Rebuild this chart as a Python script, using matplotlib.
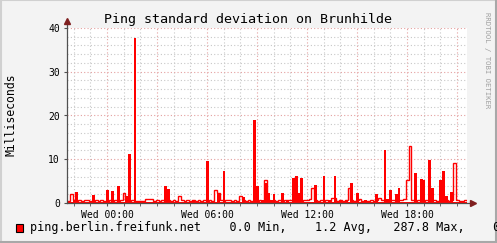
import numpy as np
import matplotlib
matplotlib.use('Agg')
import matplotlib.pyplot as plt
from matplotlib.lines import Line2D

# ping std-dev, 10 minute slots starting Tue 21:36 (hours relative to Wed 00:00)
start_hour = -2.4
slot_hours = 1 / 6

# outlined series (drawn as red step line)
line_ms = [
    0.5, 2.0, 0.6, 0.5, 0.7, 0.5, 0.8, 0.6, 0.4, 0.5, 0.7, 0.5,
    0.6, 0.4, 0.5, 0.6, 0.5, 0.7, 0.5, 0.6, 2.2, 0.8, 0.5, 0.6,
    0.5, 0.4, 0.5, 0.4, 1.0, 1.0, 0.9, 0.5, 0.6, 0.5, 0.7, 0.5,
    0.6, 0.5, 0.7, 0.5, 1.6, 0.6, 0.5, 0.7, 0.5, 0.6, 0.5, 0.7,
    0.5, 0.6, 0.5, 0.6, 0.5, 3.0, 2.3, 0.6, 0.5, 0.6, 0.7, 0.5,
    0.6, 0.5, 1.6, 0.7, 0.5, 0.6, 0.5, 0.5, 0.5, 0.6, 0.5, 5.3,
    0.6, 0.5, 0.6, 0.5, 0.6, 0.5, 0.7, 0.8, 0.6, 0.5, 0.5, 0.6,
    0.5, 0.6, 0.8, 1.0, 3.4, 0.6, 0.5, 0.7, 0.5, 0.6, 0.5, 1.1,
    1.1, 0.5, 0.6, 0.5, 0.6, 3.4, 0.6, 0.5, 0.6, 1.0, 0.5, 0.5,
    0.5, 0.6, 0.5, 0.6, 1.1, 0.6, 0.5, 0.5, 0.6, 0.7, 0.5, 0.6,
    0.6, 1.0, 5.3, 13.0, 0.6, 0.5, 0.6, 0.5, 0.5, 0.7, 0.5, 0.6,
    0.6, 0.5, 0.5, 0.5, 0.6, 0.5, 0.6, 9.1, 0.6, 0.4, 0.5, 0.8,
]

# filled series (red area)
area_ms = [
    0.3, 0.2, 0.7, 2.6, 0.3, 0.2, 0.3, 0.2, 0.2, 1.8, 0.2, 0.3,
    0.2, 0.3, 3.0, 0.2, 2.8, 0.2, 3.9, 0.3, 0.2, 1.6, 11.2, 0.2,
    37.6, 0.2, 0.3, 0.2, 0.2, 0.2, 0.2, 0.3, 0.2, 0.2, 0.2, 3.9,
    3.2, 0.2, 0.3, 0.2, 0.2, 0.3, 0.2, 0.2, 0.3, 0.8, 0.2, 0.2,
    0.2, 0.3, 9.6, 0.2, 0.2, 0.3, 2.3, 0.2, 7.3, 0.2, 0.3, 0.2,
    0.2, 0.3, 0.2, 1.3, 0.2, 0.3, 0.2, 19.0, 3.9, 0.2, 0.8, 4.6,
    2.4, 0.8, 2.0, 0.2, 0.3, 2.4, 0.2, 0.7, 0.2, 5.8, 6.1, 2.4,
    5.7, 0.2, 0.3, 0.2, 0.3, 4.1, 0.2, 0.2, 6.2, 0.2, 0.7, 0.3,
    6.2, 0.2, 0.5, 0.2, 0.7, 0.3, 4.5, 0.2, 2.4, 0.2, 0.3, 0.7,
    0.2, 0.3, 0.2, 2.0, 0.2, 0.3, 12.1, 0.9, 3.0, 0.2, 2.0, 3.4,
    0.2, 0.3, 0.3, 0.3, 0.2, 6.9, 0.2, 5.4, 5.2, 0.3, 9.8, 3.4,
    0.3, 0.2, 5.3, 7.4, 1.7, 0.2, 2.6, 0.3, 0.2, 0.2, 0.3, 0.2,
]

tick_hours = [0, 6, 12, 18]
tick_labels = ['Wed 00:00', 'Wed 06:00', 'Wed 12:00', 'Wed 18:00']
y_ticks = [0, 10, 20, 30, 40]

legend_text = 'ping.berlin.freifunk.net    0.0 Min,    1.2 Avg,   287.8 Max,    0.'

edges = start_hour + np.arange(len(area_ms) + 1) * slot_hours

fig = plt.figure(figsize=(4.97, 2.43), dpi=100, facecolor='#F3F3F3')
ax = fig.add_axes([67 / 497, 40 / 243, 400 / 497, 175 / 243])
ax.set_facecolor('white')
ax.set_xlim(edges[0], edges[-1])
ax.set_ylim(0, 40)

# grid: grey minor, pink major
grey = '#C8C8C8'
pink = '#E4A0A0'
dots = (0, (1, 2))
for h in np.arange(-2, 22, 1):
    c = pink if h % 3 == 0 else grey
    ax.axvline(h, color=c, lw=0.8, ls=dots, zorder=1)
for v in np.arange(2, 41, 2):
    c = pink if v % 10 == 0 else grey
    ax.axhline(v, color=c, lw=0.8, ls=dots, zorder=1)

ax.stairs(area_ms, edges, fill=True, color='#FF0000', zorder=3)
ax.stairs(line_ms, edges, color='#FF0000', lw=1.0, zorder=4)

for s in ax.spines.values():
    s.set_visible(False)
ax.set_xticks(tick_hours)
ax.set_xticklabels(tick_labels, family='DejaVu Sans Mono', fontsize=7)
ax.set_yticks(y_ticks)
ax.set_yticklabels([str(v) for v in y_ticks], family='DejaVu Sans Mono', fontsize=7)
ax.tick_params(axis='both', length=2, width=0.8, color='#505050', pad=3, labelcolor='black')
ax.set_xticks(np.arange(-2, 22, 1), minor=True)
ax.tick_params(axis='x', which='minor', length=2, width=0.6, color='#505050')

# axis lines with arrows
ax.add_line(Line2D([0, 0], [0, 1.04], transform=ax.transAxes, color='#505050', lw=0.9, clip_on=False, zorder=5))
ax.add_line(Line2D([0, 1.015], [0, 0], transform=ax.transAxes, color='#505050', lw=0.9, clip_on=False, zorder=5))
ax.plot([0], [1.04], marker='^', ms=4, color='#7F1F1F', transform=ax.transAxes, clip_on=False, zorder=6)
ax.plot([1.015], [0], marker='>', ms=4, color='#7F1F1F', transform=ax.transAxes, clip_on=False, zorder=6)

fig.text(248 / 497, 1 - 19 / 243, 'Ping standard deviation on Brunhilde', family='DejaVu Sans Mono',
         fontsize=9.6, ha='center', va='center')
fig.text(11 / 497, 1 - 115 / 243, 'Milliseconds', family='DejaVu Sans Mono', fontsize=8.3,
         rotation=90, ha='center', va='center')
fig.text(487 / 497, 1 - 60 / 243, 'RRDTOOL / TOBI OETIKER', family='DejaVu Sans Mono', fontsize=5.2,
         rotation=270, ha='center', va='center', color='#A0A0A0')

# legend
fig.patches.append(plt.Rectangle((16 / 497, 1 - 232 / 243), 7 / 497, 8 / 243, transform=fig.transFigure,
                                 facecolor='#FF0000', edgecolor='black', lw=0.8))
fig.text(30 / 497, 1 - 228 / 243, legend_text, family='DejaVu Sans Mono', fontsize=8.45,
         ha='left', va='center')

# 3d-ish frame
fig.add_artist(Line2D([0.002, 0.002], [0, 1], transform=fig.transFigure, color='#D0D0D0', lw=1.5))
fig.add_artist(Line2D([0, 1], [0.998, 0.998], transform=fig.transFigure, color='#D0D0D0', lw=1.5))
fig.add_artist(Line2D([0.998, 0.998], [0, 1], transform=fig.transFigure, color='#A8A8A8', lw=1.5))
fig.add_artist(Line2D([0, 1], [0.004, 0.004], transform=fig.transFigure, color='#A8A8A8', lw=1.5))

fig.savefig('out.png', dpi=100, facecolor=fig.get_facecolor())
